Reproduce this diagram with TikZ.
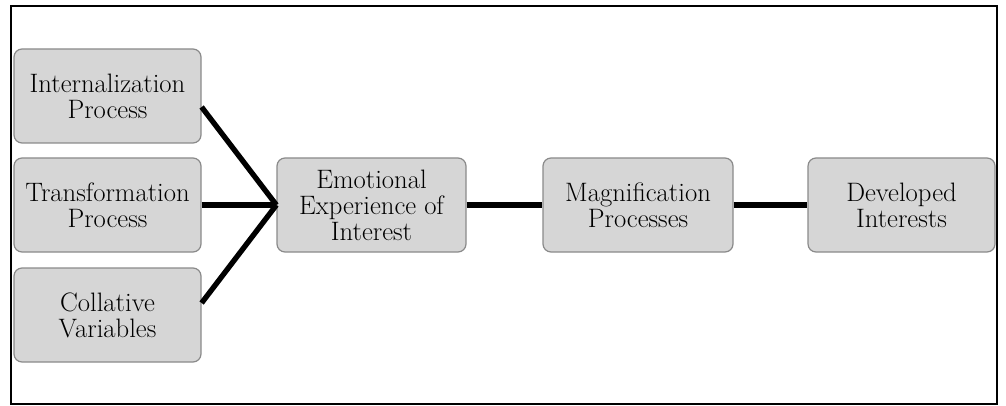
\documentclass[tikz,border=0pt]{standalone}
\usepackage{fontspec}
\setmainfont{Latin Modern Roman}
\definecolor{boxfill}{HTML}{D6D6D6}
\definecolor{boxline}{HTML}{8A8A8A}
\begin{document}
\begin{tikzpicture}[x=0.75pt,y=-0.75pt,
  box/.style={draw=boxline,line width=0.9pt,fill=boxfill,rounded corners=6pt,inner sep=0pt,
    align=center,font=\fontsize{20}{19.5}\selectfont},
  link/.style={line width=4pt,black}]
\useasboundingbox (0,0) rectangle (1006,406);
\draw[line width=1.6pt] (11,6) rectangle (997,404);
\node[box,minimum width=140.25pt,minimum height=70.5pt] (ip) at (107.5,96) {Internalization\\Process};
\node[box,minimum width=140.25pt,minimum height=70.5pt] (tp) at (107.5,205) {Transformation\\Process};
\node[box,minimum width=140.25pt,minimum height=70.5pt] (cv) at (107.5,315) {Collative\\Variables};
\node[box,minimum width=141.75pt,minimum height=70.5pt] (ee) at (371.5,205) {Emotional\\Experience of\\Interest};
\node[box,minimum width=142.5pt,minimum height=70.5pt] (mp) at (638,205) {Magnification\\Processes};
\node[box,minimum width=140.25pt,minimum height=70.5pt] (di) at (901.5,205) {Developed\\Interests};
\coordinate (j) at (ee.west);
\draw[link] (ip.east) ++(0,11) coordinate (a1) -- (j);
\draw[link] (cv.east) ++(0,-12) coordinate (a3) -- (j);
\draw[link] (tp.east) -- (j);
\draw[link] (ee.east) -- (mp.west);
\draw[link] (mp.east) -- (di.west);
\end{tikzpicture}
\end{document}
